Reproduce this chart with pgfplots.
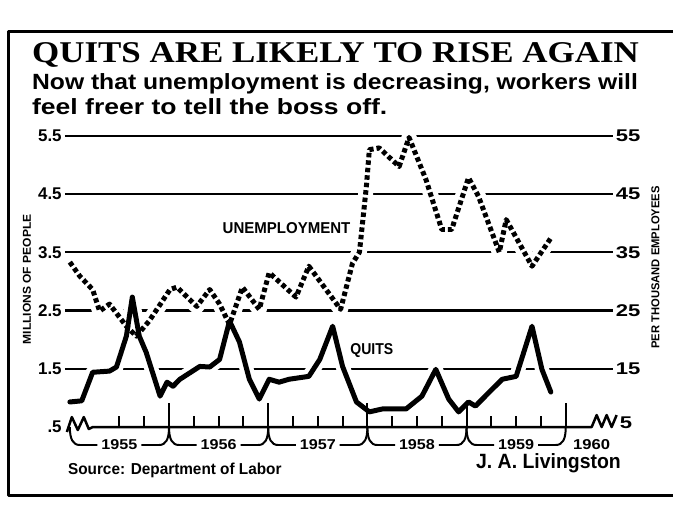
\documentclass[border=0pt]{standalone}
\usepackage{pgfplots}
\pgfplotsset{compat=1.18}
\usepackage{pgfplotstable}
\usepackage{graphicx}
\usepackage{fontspec}
\setmainfont{Liberation Sans}
\newfontfamily\titlefont{Liberation Serif}

\newcommand\lbl[1]{\scalebox{1.0}[1.0]{\fontsize{17}{17}\selectfont\bfseries #1}}
\newcommand\rbl[1]{\scalebox{1.3}[1.0]{\fontsize{17}{17}\selectfont\bfseries #1}}

% Unemployment, millions of people
\pgfplotstableread{
t u
1955.00 3.33
1955.10 3.09
1955.23 2.86
1955.30 2.49
1955.40 2.61
1955.57 2.23
1955.67 2.06
1955.80 2.32
1956.01 2.86
1956.08 2.90
1956.28 2.57
1956.41 2.86
1956.51 2.61
1956.61 2.26
1956.74 2.90
1956.91 2.52
1957.01 3.15
1957.28 2.73
1957.41 3.26
1957.73 2.52
1957.85 3.31
1957.92 3.50
1957.99 4.63
1958.02 5.26
1958.12 5.29
1958.32 4.97
1958.42 5.47
1958.59 4.75
1958.75 3.89
1958.85 3.89
1959.02 4.78
1959.12 4.46
1959.33 3.50
1959.40 4.06
1959.66 3.26
1959.86 3.77
}\unemp

% Quits, per thousand employees
\pgfplotstableread{
t q
1955.00 9.3
1955.12 9.5
1955.23 14.4
1955.40 14.6
1955.47 15.3
1955.57 20.6
1955.63 27.3
1955.70 20.6
1955.77 17.8
1955.91 10.3
1955.98 12.7
1956.04 12.0
1956.11 13.2
1956.31 15.4
1956.41 15.3
1956.51 16.6
1956.61 23.2
1956.71 19.6
1956.81 13.2
1956.91 9.8
1957.01 13.2
1957.11 12.7
1957.21 13.2
1957.41 13.7
1957.52 16.6
1957.65 22.3
1957.75 15.4
1957.89 9.3
1958.02 7.6
1958.15 8.1
1958.39 8.1
1958.55 10.3
1958.69 14.9
1958.82 9.8
1958.92 7.6
1959.02 9.3
1959.09 8.6
1959.23 11.0
1959.36 13.2
1959.50 13.7
1959.66 22.3
1959.76 14.9
1959.85 11.0
}\quits

\pgfplotsset{common/.style={at={(65pt,90pt)}, anchor=south west, scale only axis,
  width=549pt, height=292pt, xmin=1954.9497, xmax=1960.473, clip=false,
  xtick=\empty, axis line style={draw=none}, major tick length=0pt}}

\begin{document}
\begin{tikzpicture}
\begin{scope}[x=1pt,y=-1pt,yshift=518pt]
\useasboundingbox (0,0) rectangle (674,518);
\fill[white] (0,0) rectangle (674,518);
% horizontal rules at 1.5 ... 5.5 (15 ... 55)
\foreach \k in {1,...,5} \draw[line width=2.3pt] (65,{428-58.4*\k}) -- (614,{428-58.4*\k});
\end{scope}

\begin{axis}[common, ymin=0.5, ymax=5.5,
  ytick={1.5,2.5,3.5,4.5,5.5},
  yticklabels={\lbl{1.5},\lbl{2.5},\lbl{3.5},\lbl{4.5},\lbl{5.5}},
  extra y ticks={0.5}, extra y tick labels={\lbl{.5}},
  yticklabel style={anchor=east, inner sep=0pt, xshift=-3pt}]
\addplot[draw=white, line width=15pt, line join=round, line cap=round, forget plot] table[x=t,y=u]{\unemp};
\end{axis}

\begin{axis}[common, ymin=5, ymax=55,
  ytick={15,25,35,45,55},
  yticklabels={\rbl{15},\rbl{25},\rbl{35},\rbl{45},\rbl{55}},
  yticklabel pos=right,
  yticklabel style={anchor=west, inner sep=0pt, xshift=3pt}]
\addplot[draw=white, line width=14pt, line join=round, line cap=round, forget plot] table[x=t,y=q]{\quits};
\addplot[draw=black, line width=5pt, line join=round, line cap=round] table[x=t,y=q]{\quits};
\end{axis}

\begin{axis}[common, ymin=0.5, ymax=5.5, hide axis]
\addplot[draw=black, line width=5pt, line join=round, dash pattern=on 4.5pt off 3pt] table[x=t,y=u]{\unemp};
\end{axis}

\begin{scope}[x=1pt,y=-1pt,yshift=518pt, line join=round]
\draw[line width=3pt] (674,32) -- (9,32) -- (9,497) -- (674,497);
\node[anchor=base west, inner sep=0] at (32,63) {\resizebox{608pt}{20pt}{\titlefont\bfseries QUITS ARE LIKELY TO RISE AGAIN}};
\node[anchor=base west, inner sep=0] at (32,90) {\resizebox{607pt}{16pt}{\bfseries Now that unemployment is decreasing, workers will}};
\node[anchor=base west, inner sep=0] at (32,115) {\resizebox{356pt}{16pt}{\bfseries feel freer to tell the boss off.}};
% baseline with break marks
\draw[line width=2.5pt] (67,433)--(72,418)--(78,431)--(84,418)--(89,430)--(93,428)--(593,428)--(598,416)--(603,428)--(608,416)--(613,428)--(618,416);
\node[anchor=west, inner sep=0] at (621,424) {\rbl{5}};
% year ticks
\foreach \k in {1,...,5} \draw[line width=2pt] ({70+99.4*\k},428) -- ({70+99.4*\k},404);
% quarter ticks
\foreach \k in {2,3} \draw[line width=2pt] ({70+24.85*\k},428) -- ({70+24.85*\k},417);
\foreach \y in {1,...,4} \foreach \k in {1,2,3} \draw[line width=2pt] ({70+99.4*\y+24.85*\k},428) -- ({70+99.4*\y+24.85*\k},417);
% year brackets
\foreach \y/\lab in {0/1955,1/1956,2/1957,3/1958,4/1959} {
  \pgfmathsetmacro\a{70+99.4*\y}
  \pgfmathsetmacro\b{\a+99.4}
  \pgfmathsetmacro\c{\a+49.7}
  \draw[line width=2pt] (\a,428) .. controls (\a,440) and ({\a+3},446) .. ({\a+10},446) -- ({\c-22},446);
  \draw[line width=2pt] ({\c+22},446) -- ({\b-10},446) .. controls ({\b-3},446) and (\b,440) .. (\b,428);
  \node[inner sep=0] at (\c,446) {\resizebox{36pt}{10pt}{\bfseries \lab}};
}
\node[inner sep=0] at (593,446) {\resizebox{37pt}{10pt}{\bfseries 1960}};
% series labels
\node[anchor=base west, inner sep=0] at (223,234) {\resizebox{128pt}{11pt}{\bfseries UNEMPLOYMENT}};
\node[anchor=base west, inner sep=0] at (351,355) {\resizebox{43pt}{11pt}{\bfseries QUITS}};
% axis titles
\node[rotate=90, inner sep=0] at (27,280) {\resizebox{130pt}{8pt}{\bfseries MILLIONS OF PEOPLE}};
\node[rotate=90, inner sep=0] at (657,268) {\resizebox{163pt}{8pt}{\bfseries PER THOUSAND EMPLOYEES}};
% credits
\node[anchor=base west, inner sep=0] at (68,476) {\resizebox{214pt}{11.5pt}{\bfseries Source: Department of Labor}};
\node[anchor=base west, inner sep=0] at (477,470) {\resizebox{145pt}{15pt}{\bfseries J. A. Livingston}};
\end{scope}
\end{tikzpicture}
\end{document}
